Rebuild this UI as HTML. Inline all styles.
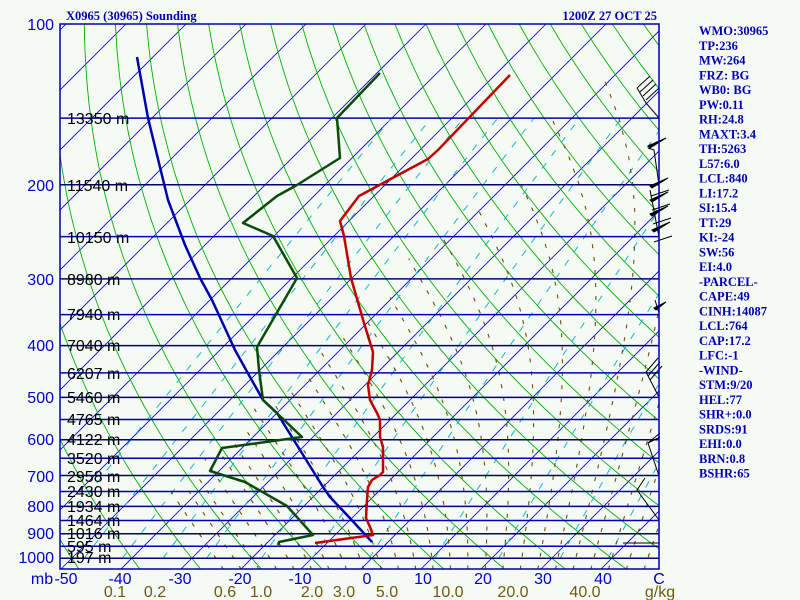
<!DOCTYPE html>
<html><head><meta charset="utf-8"><style>
html,body{margin:0;padding:0;background:#f5faf5;}
svg{display:block;}
.pl{font-family:"Liberation Sans",sans-serif;font-size:16px;fill:#0000c8;}
.hl{font-family:"Liberation Sans",sans-serif;font-size:16px;fill:#000;}
.ml{font-family:"Liberation Sans",sans-serif;font-size:16px;fill:#6b5a10;}
.rt{font-family:"Liberation Serif",serif;font-size:12.5px;font-weight:bold;fill:#0000b0;}
</style></head><body>
<svg id="s" width="800" height="600" viewBox="0 0 800 600" xmlns="http://www.w3.org/2000/svg">
<rect width="800" height="600" fill="#f5faf5"/>
<defs><clipPath id="c"><rect x="60" y="24" width="599" height="545"/></clipPath></defs>
<g id="grid" clip-path="url(#c)"></g>
<g id="hlines"></g>
<g clip-path="url(#c)" fill="none" stroke-width="2.5" stroke-linejoin="round">
<polyline stroke="#0000b0" points="137,57 148,118 168,200 185,245 200,278 212,300 235,350 250,377 263,400 277,413 300,450 323,487 330,497 347,515 372,542"/>
<polyline stroke="#0a4a0a" points="380,73 337,118 340,158 297,185 277,196 243,223 273,236 297,278 257,347 259,370 263,400 302,437 222,448 210,471 245,482 287,506 313,535 279,542 278,545"/>
<polyline stroke="#c00000" points="510,75 438,150 428,159 359,196 340,221 344,236 351,278 364,323 373,352 372,370 368,385 370,400 377,413 380,420 380,437 383,447 383,472 380,475 372,480 368,487 367,500 366,518 370,527 373,535 315,543"/>
</g>
<g stroke="#000" stroke-width="1" fill="none">
<polyline points="659,118 646,103 637,88"/><path d="M637,88 l13,-12 M640,92 l13,-12 M643,96 l13,-12 M646,100 l13,-12"/>
<polyline points="659,185 654,150 648,148"/><path d="M648,146 l18,-8 l-16,10 z" fill="#000"/>
<polyline points="659,237 650,190"/><path d="M650,186 l18,-8 l-16,10 z M650,200 l18,-8 l-16,10 z M650,214 l18,-8 l-16,10 z M652,230 l18,-8 l-16,10 z" fill="#000"/>
<path d="M651,196 l18,-6 M652,210 l18,-6 M653,224 l18,-6 M654,242 l18,-6"/>
<polyline points="659,313 655,300"/><path d="M654,308 l12,-6 l-10,8 z" fill="#000"/>
<polyline points="659,397 646,372"/><path d="M646,372 l12,-14 M648,376 l12,-14 M650,380 l12,-14"/>
<polyline points="659,476 648,443 660,433"/><path d="M648,443 l12,-6"/>
<polyline points="659,520 637,490 645,478"/>
<line x1="623" y1="543" x2="659" y2="543"/>
</g>
<rect x="60" y="24" width="599" height="545" fill="none" stroke="#0000b0" stroke-width="1.5"/>
<g id="txt">
<text x="66" y="20" class="rt">X0965 (30965) Sounding</text>
<text x="657" y="20" class="rt" text-anchor="end">1200Z 27 OCT 25</text>
<g class="pl" text-anchor="end">
<text x="54" y="30">100</text><text x="54" y="191">200</text><text x="54" y="285">300</text><text x="54" y="351">400</text><text x="54" y="403">500</text><text x="54" y="445">600</text><text x="54" y="482">700</text><text x="54" y="512">800</text><text x="54" y="539">900</text><text x="54" y="563">1000</text>
</g>
<g class="hl">
<text x="67" y="124">13350 m</text><text x="67" y="191">11540 m</text><text x="67" y="243">10150 m</text><text x="67" y="285">8980 m</text><text x="67" y="320">7940 m</text><text x="67" y="351">7040 m</text><text x="67" y="379">6207 m</text><text x="67" y="403">5460 m</text><text x="67" y="425">4765 m</text><text x="67" y="445">4122 m</text><text x="67" y="464">3520 m</text><text x="67" y="482">2958 m</text><text x="67" y="497">2430 m</text><text x="67" y="512">1934 m</text><text x="67" y="526">1464 m</text><text x="67" y="539">1016 m</text><text x="67" y="552">595 m</text><text x="67" y="563">197 m</text>
</g>
<g class="pl" text-anchor="middle">
<text x="42" y="584">mb</text><text x="66" y="584">-50</text><text x="120" y="584">-40</text><text x="180" y="584">-30</text><text x="240" y="584">-20</text><text x="300" y="584">-10</text><text x="367" y="584">0</text><text x="423" y="584">10</text><text x="483" y="584">20</text><text x="543" y="584">30</text><text x="603" y="584">40</text><text x="659" y="584">C</text>
</g>
<g class="ml" text-anchor="middle">
<text x="115" y="597">0.1</text><text x="155" y="597">0.2</text><text x="225" y="597">0.6</text><text x="261" y="597">1.0</text><text x="312" y="597">2.0</text><text x="344" y="597">3.0</text><text x="387" y="597">5.0</text><text x="448" y="597">10.0</text><text x="513" y="597">20.0</text><text x="585" y="597">40.0</text><text x="660" y="597">g/kg</text>
</g>
<g class="rt" id="rcol"></g>
</g>
</svg>
<script>
(function(){
var NS="http://www.w3.org/2000/svg";
function yP(p){return 24+232*Math.log(p/100);}
function xT(T,p){var y=yP(p);return 361+6*T+(569-y);}
var g=document.getElementById('grid');
function pl(pts,st,w,da){if(pts.length<2)return;var e=document.createElementNS(NS,'polyline');e.setAttribute('points',pts.map(function(a){return a[0].toFixed(1)+','+a[1].toFixed(1)}).join(' '));e.setAttribute('fill','none');e.setAttribute('stroke',st);e.setAttribute('stroke-width',w);if(da)e.setAttribute('stroke-dasharray',da);g.appendChild(e);}
for(var T=-160;T<=60;T+=10){pl([[361+6*T,569],[361+6*T+545,24]],'#0000c0',0.8);}
for(var k=-12;k<=25;k++){var th=273.15+10*k,pts=[];for(var p=1050;p>=99;p-=10){var t=th*Math.pow(p/1000,0.286)-273.15;pts.push([xT(t,p),yP(p)]);}pl(pts,'#00b000',0.9);}
function es(t){return 6.112*Math.exp(17.67*t/(t+243.5));}
[0.02,0.05,0.1,0.2,0.4,0.9,1.8,3.7,8,16,30,48].forEach(function(w){var pts=[];for(var p=1000;p>=150;p-=10){var e=w*p/(622+w),l=Math.log(e/6.112),td=243.5*l/(17.67-l);pts.push([xT(td,p),yP(p)]);}pl(pts,'#10b8c8',1,'7,9');});
function dTdp(T,p){var Tk=T+273.15,e=es(T),rs=0.622*e/(p-e),Rd=287,cp=1005,Lv=2.5e6;return (1/p)*(Rd*Tk+Lv*rs)/(cp+Lv*Lv*rs*0.622/(Rd*Tk*Tk));}
for(var tw=-26;tw<=50;tw+=3){
 var Ta=tw,pa=1000;while(pa<1050){Ta+=dTdp(Ta,pa)*5;pa+=5;}
 var T=Ta,p=1050;var pts=[[xT(T,p),yP(p)]];
 while(p>100){T-=dTdp(T,p)*5;p-=5;if(T<-45)break;if(p%25==0)pts.push([xT(T,p),yP(p)]);}
 pl(pts,'#6b5000',1.1,'4,9');}
var h=document.getElementById('hlines');
for(var p=150;p<=1000;p+=50){var y=yP(p).toFixed(1),e=document.createElementNS(NS,'line');e.setAttribute('x1',60);e.setAttribute('x2',659);e.setAttribute('y1',y);e.setAttribute('y2',y);e.setAttribute('stroke',p%100==0?'#00007a':'#0000b0');e.setAttribute('stroke-width',1.5);h.appendChild(e);}
var items=["WMO:30965","TP:236","MW:264","FRZ: BG","WB0: BG","PW:0.11","RH:24.8","MAXT:3.4","TH:5263","L57:6.0","LCL:840","LI:17.2","SI:15.4","TT:29","KI:-24","SW:56","EI:4.0","-PARCEL-","CAPE:49","CINH:14087","LCL:764","CAP:17.2","LFC:-1","-WIND-","STM:9/20","HEL:77","SHR+:0.0","SRDS:91","EHI:0.0","BRN:0.8","BSHR:65"];
var rc=document.getElementById('rcol');
items.forEach(function(s,i){var t=document.createElementNS(NS,'text');t.setAttribute('x',699);t.setAttribute('y',(35+i*14.75).toFixed(1));t.textContent=s;rc.appendChild(t);});
})();
</script>
</body></html>
